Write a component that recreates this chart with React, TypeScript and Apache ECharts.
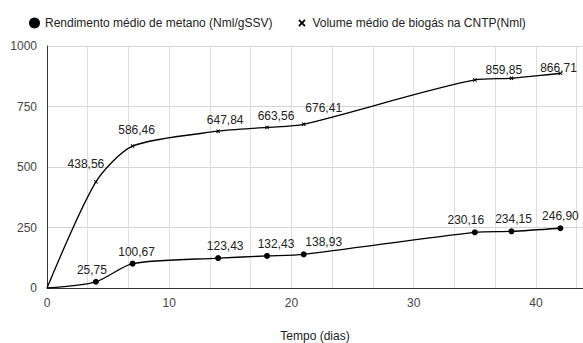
import React, { useEffect, useRef } from "react";
import * as echarts from "echarts";

const days = [0, 4, 7, 14, 18, 21, 35, 38, 42];
const rendimento = [0, 25.75, 100.67, 123.43, 132.43, 138.93, 230.16, 234.15, 246.9];
const volume = [0, 438.56, 586.46, 647.84, 663.56, 676.41, 859.85, 866.71, 887];
const yTicks = [0, 250, 500, 750, 1000];
const xLabelTicks = [0, 10, 20, 30, 40];
const seriesNames = [
  "Rendimento médio de metano (Nml/gSSV)",
  "Volume médio de biogás na CNTP(Nml)",
];

// label placement tweaks (style only)
const lowerLabelOffsets = [[0, 0], [-4, 0], [4, 0], [7, 0], [9, 0], [20, 0], [-9, 0], [2, 0], [0, 0]];
const upperLabelOffsets = [[0, 0], [-10, -7], [4, -5], [7, 0], [9, 0], [20, -5], [29, 1], [47, 1], [0, 0]];
const upperLabelShown = [false, true, true, true, true, true, true, true, false];

const FONT = "Arial, 'Liberation Sans', sans-serif";
const fmt = (v: number) => v.toFixed(2).replace(".", ",");

const crossSeries =
  "path://M2,3.4L3.4,2L6,4.6L8.6,2L10,3.4L7.4,6L10,8.6L8.6,10L6,7.4L3.4,10L2,8.6L4.6,6Z";
const crossLegend =
  "path://M2,3.4L3.4,2L6,4.6L8.6,2L10,3.4L7.4,6L10,8.6L8.6,10L6,7.4L3.4,10L2,8.6L4.6,6Z M0,0L0.01,0 M12,12L11.99,12";

export default function App() {
  const ref = useRef<HTMLDivElement>(null);
  useEffect(() => {
    if (!ref.current) return;
    const chart = echarts.init(ref.current, undefined, { renderer: "svg" });
    const lowerData = days.map((d, i) => ({
      value: [d, rendimento[i]],
      symbolSize: i === 0 ? 0 : 6,
      label: { show: i !== 0, offset: lowerLabelOffsets[i] },
    }));
    const upperData = days.map((d, i) => ({
      value: [d, volume[i]],
      symbolSize: i === 0 ? 0 : 4,
      label: { show: upperLabelShown[i], offset: upperLabelOffsets[i] },
    }));
    chart.setOption({
      animation: false,
      textStyle: { fontFamily: FONT },
      legend: {
        left: 24,
        top: 12,
        itemWidth: 11,
        itemHeight: 11,
        itemGap: 24,
        selectedMode: false,
        textStyle: { fontSize: 12, color: "#222", fontFamily: FONT },
        data: [
          { name: seriesNames[0], icon: "circle", itemStyle: { color: "#000" } },
          { name: seriesNames[1], icon: crossLegend, itemStyle: { color: "#000" } },
        ],
      },
      grid: { left: 47, right: 0, top: 46, bottom: 55, containLabel: false, outerBoundsMode: "none" },
      xAxis: {
        type: "value",
        min: 0,
        max: 43.85,
        interval: 10 / 3,
        name: "Tempo (dias)",
        nameLocation: "middle",
        nameGap: 42,
        nameTextStyle: { fontSize: 12, color: "#222", fontFamily: FONT },
        axisLine: { show: true, lineStyle: { color: "#333", width: 1 } },
        axisTick: { show: false },
        axisLabel: {
          fontSize: 12,
          color: "#444",
          margin: 9,
          fontFamily: FONT,
          formatter: (v: number) => {
            const hit = xLabelTicks.find((t) => Math.abs(t - v) < 1e-6);
            return hit === undefined ? "" : String(hit);
          },
        },
        splitLine: { show: true, lineStyle: { color: "#dedede", width: 1 } },
      },
      yAxis: {
        type: "value",
        min: yTicks[0],
        max: yTicks[yTicks.length - 1],
        interval: 250,
        axisLine: { show: true, lineStyle: { color: "#333", width: 1 } },
        axisTick: { show: false },
        axisLabel: {
          fontSize: 12,
          color: "#444",
          margin: 10,
          fontFamily: FONT,
          formatter: (v: number) => String(v),
        },
        splitLine: { show: true, lineStyle: { color: "#d6d6d6", width: 1 } },
      },
      series: [
        {
          name: seriesNames[0],
          type: "line",
          smooth: 0.25,
          symbol: "circle",
          data: lowerData,
          lineStyle: { color: "#000", width: 1.3 },
          itemStyle: { color: "#000" },
          label: {
            position: "top",
            distance: 3,
            fontSize: 12,
            color: "#222",
            fontFamily: FONT,
            formatter: (p: any) => fmt(p.value[1]),
          },
          z: 3,
        },
        {
          name: seriesNames[1],
          type: "line",
          smooth: 0.25,
          symbol: crossSeries,
          data: upperData,
          lineStyle: { color: "#000", width: 1.3 },
          itemStyle: { color: "#000" },
          label: {
            position: "top",
            distance: 3,
            fontSize: 12,
            color: "#222",
            fontFamily: FONT,
            formatter: (p: any) => fmt(p.value[1]),
          },
          z: 3,
        },
      ],
    });
    return () => chart.dispose();
  }, []);
  return (
    <div
      ref={ref}
      style={{ position: "fixed", left: 0, top: 0, width: 583, height: 343, background: "#fff" }}
    />
  );
}
